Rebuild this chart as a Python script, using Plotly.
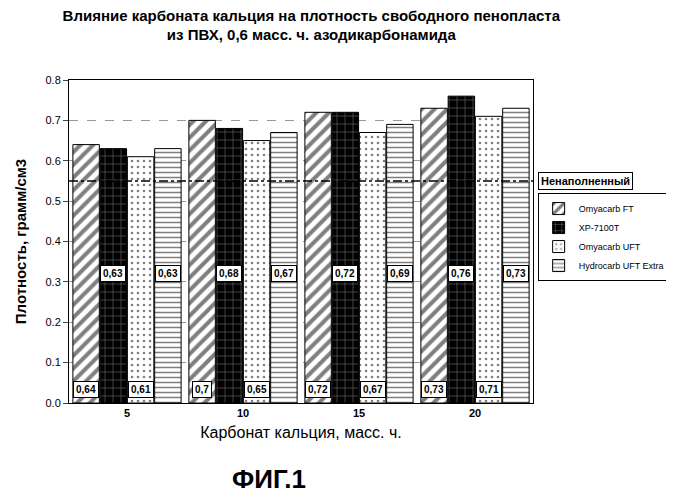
import plotly.graph_objects as go

categories = ["5", "10", "15", "20"]
series_names = ["Omyacarb FT", "XP-7100T", "Omyacarb UFT", "Hydrocarb UFT Extra"]
values = [
    [0.64, 0.70, 0.72, 0.73],
    [0.63, 0.68, 0.72, 0.76],
    [0.61, 0.65, 0.67, 0.71],
    [0.63, 0.67, 0.69, 0.73],
]
unfilled = 0.55

patterns = [
    dict(shape="/", bgcolor="white", fgcolor="black", size=9, solidity=0.45),
    dict(shape="+", bgcolor="black", fgcolor="white", size=8, solidity=0.12),
    dict(shape=".", bgcolor="white", fgcolor="black", size=6, solidity=0.15),
    dict(shape="-", bgcolor="white", fgcolor="black", size=5, solidity=0.3),
]

bargap = 0.06
w = (1 - bargap) / 4
xs = list(range(len(categories)))

fig = go.Figure()
annotations = []
for j, name in enumerate(series_names):
    fig.add_trace(go.Bar(
        x=xs, y=values[j], name=name, width=w * 0.97,
        marker=dict(color="white", pattern=patterns[j], line=dict(color="black", width=1)),
    ))
    for i, v in enumerate(values[j]):
        label = ("%g" % v).replace(".", ",")
        bottom = j in (0, 2)
        annotations.append(dict(
            x=i + (j - 1.5) * w, y=0.012 if bottom else 0.32,
            yanchor="bottom" if bottom else "middle",
            text="<b>%s</b>" % label, showarrow=False,
            bgcolor="white", bordercolor="black", borderwidth=1, borderpad=2,
            font=dict(size=10, color="black"),
        ))

fig.add_shape(type="line", xref="paper", x0=0, x1=1, y0=unfilled, y1=unfilled,
              line=dict(color="black", width=1.5, dash="dashdot"))
annotations.append(dict(xref="paper", x=1.01, y=unfilled, xanchor="left",
                        text="<b>Ненаполненный</b>", showarrow=False,
                        bordercolor="black", borderwidth=1, borderpad=2,
                        font=dict(size=11, color="black")))
annotations.append(dict(xref="paper", yref="paper", x=0.43, y=-0.235,
                        yanchor="middle",
                        text="<b>ФИГ.1</b>", showarrow=False,
                        font=dict(size=26, color="black")))

fig.update_layout(
    width=674, height=500,
    margin=dict(l=48, r=126, t=72, b=105),
    title=dict(text="<b>Влияние карбоната кальция на плотность свободного пенопласта<br>из ПВХ, 0,6 масс. ч. азодикарбонамида</b>",
               x=0.45, xanchor="center", y=0.975, font=dict(size=15, color="black")),
    font=dict(family="Liberation Sans, Arial", color="black"),
    plot_bgcolor="white", paper_bgcolor="white",
    barmode="group", bargap=bargap,
    annotations=annotations,
    showlegend=True,
    legend=dict(x=1.01, y=0.65, xanchor="left", yanchor="top",
                bordercolor="black", borderwidth=1, font=dict(size=9),
                tracegroupgap=2),
)
fig.update_xaxes(tickvals=xs, ticktext=["<b>%s</b>" % c for c in categories],
                 range=[-0.5, 3.5], showline=True, linecolor="black", mirror=True,
                 title=dict(text="Карбонат кальция, масс. ч.", font=dict(size=16), standoff=8),
                 tickfont=dict(size=11))
fig.update_yaxes(range=[0, 0.8], dtick=0.1, tickformat=".1f",
                 showline=True, linecolor="black", mirror=True,
                 gridcolor="#999999", griddash="dash", zeroline=False,
                 title=dict(text="<b>Плотность, грамм/см3</b>", font=dict(size=15)),
                 tickfont=dict(size=11), ticks="outside")

fig.write_html("out.html")
